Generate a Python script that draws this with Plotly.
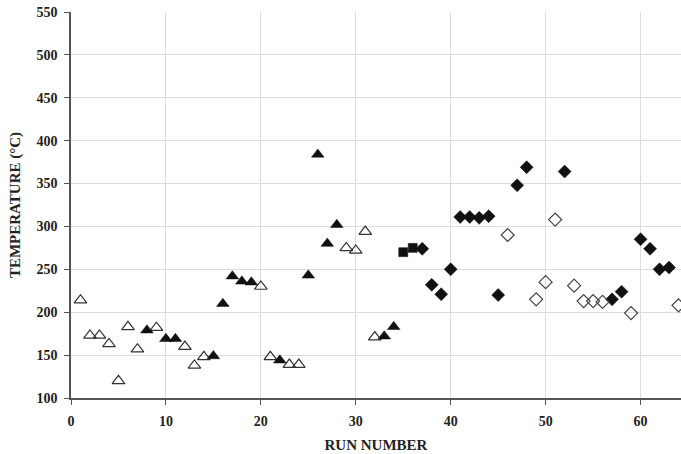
import plotly.graph_objects as go

# Open triangles
open_tri_x = [1, 2, 3, 4, 5, 6, 7, 9, 12, 13, 14, 20, 21, 23, 24, 29, 30, 31, 32]
open_tri_y = [214, 173, 173, 163, 120, 183, 157, 182, 160, 138, 148, 230, 148, 139, 139, 275, 272, 294, 171]

# Filled triangles
fill_tri_x = [8, 10, 11, 15, 16, 17, 18, 19, 22, 25, 26, 27, 28, 33, 34]
fill_tri_y = [179, 169, 169, 149, 210, 242, 236, 235, 144, 243, 384, 280, 302, 172, 183]

# Filled squares
sq_x = [35, 36]
sq_y = [270, 275]

# Filled diamonds
fill_dia_x = [37, 38, 39, 40, 41, 42, 43, 44, 45, 47, 48, 52, 57, 58, 60, 61, 62, 63]
fill_dia_y = [274, 232, 221, 250, 311, 311, 310, 312, 220, 348, 369, 364, 215, 224, 285, 274, 250, 252]

# Open diamonds
open_dia_x = [46, 49, 50, 51, 53, 54, 55, 56, 59, 64]
open_dia_y = [290, 215, 235, 308, 231, 213, 213, 212, 199, 208]

x_ticks = [0, 10, 20, 30, 40, 50, 60]
y_ticks = [100, 150, 200, 250, 300, 350, 400, 450, 500, 550]

fig = go.Figure()

def add(x, y, symbol, color, size, lw):
    fig.add_trace(go.Scatter(
        x=x, y=y, mode="markers",
        marker=dict(symbol=symbol, size=size, color=color,
                    line=dict(width=lw, color=color)),
        showlegend=False))

add(open_tri_x, open_tri_y, "triangle-up-open", "#333333", 11, 1.2)
add(fill_tri_x, fill_tri_y, "triangle-up", "#111111", 11, 0.5)
add(sq_x, sq_y, "square", "#111111", 9, 0.5)
add(fill_dia_x, fill_dia_y, "diamond", "#111111", 10, 0.5)
add(open_dia_x, open_dia_y, "diamond-open", "#444444", 10, 1.2)

font_family = "Liberation Serif"

fig.update_layout(
    width=681, height=454,
    margin=dict(l=71, r=0, t=12, b=56),
    paper_bgcolor="white", plot_bgcolor="white",
    font=dict(family=font_family, color="#222222"),
    xaxis=dict(
        range=[0, 64.26], tickvals=x_ticks,
        ticktext=["<b>%d</b>" % v for v in x_ticks],
        automargin=False, ticklabelstandoff=4,
        showgrid=True, gridcolor="#dcdcdc", gridwidth=1,
        zeroline=False, showline=True, linecolor="#555555", linewidth=1.5,
        ticks="outside", ticklen=5, tickcolor="#555555",
        tickfont=dict(family=font_family, size=14, color="#222222"),
        title=dict(text="<b>RUN NUMBER</b>", font=dict(family=font_family, size=15, color="#222222"), standoff=12),
    ),
    yaxis=dict(
        range=[100, 550], tickvals=y_ticks,
        ticktext=["<b>%d</b>" % v for v in y_ticks],
        automargin=False, ticklabelstandoff=4,
        showgrid=True, gridcolor="#dcdcdc", gridwidth=1,
        zeroline=False, showline=True, linecolor="#555555", linewidth=1.5,
        ticks="outside", ticklen=5, tickcolor="#555555",
        tickfont=dict(family=font_family, size=14, color="#222222"),
        title=dict(text="<b>TEMPERATURE (°C)</b>", font=dict(family=font_family, size=15, color="#222222"), standoff=12),
    ),
)

fig.write_html(
    "out.html",
    config={"displayModeBar": False},
    post_script="document.body.style.margin='0';document.body.style.overflow='hidden';",
)
